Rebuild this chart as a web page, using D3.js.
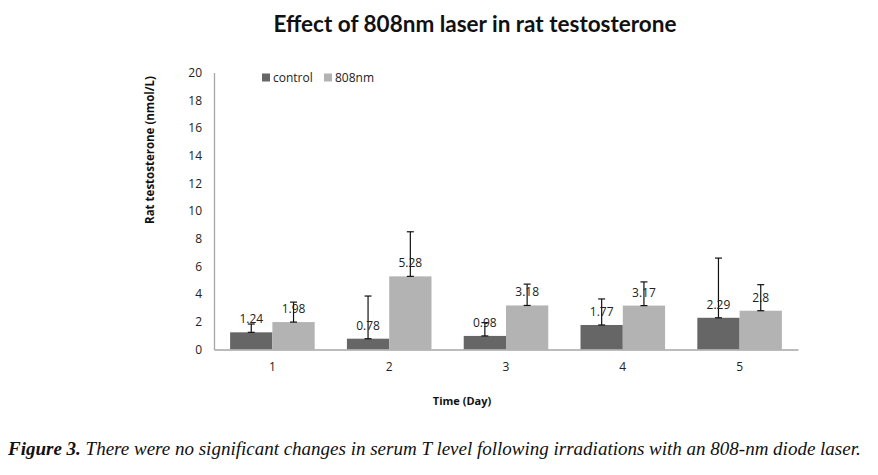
<!DOCTYPE html>
<html><head><meta charset="utf-8">
<script src="https://cdn.jsdelivr.net/npm/d3@7"></script>
<style>body{margin:0;background:#fff}</style>
</head><body>
<svg id="c" width="878" height="475"></svg>
<script>
const categories = ["1","2","3","4","5"];
const seriesNames = ["control","808nm"];
const controlValues = [1.24,0.78,0.98,1.77,2.29];
const laserValues = [1.98,5.28,3.18,3.17,2.8];
const controlErr = [0.6,3.08,0.96,1.88,4.31];
const laserErr = [1.44,3.22,1.54,1.71,1.88];
const yTicks = [0,2,4,6,8,10,12,14,16,18,20];
const colors = ["#666666","#b3b3b3"];

const svg = d3.select("#c");
const m = {left:214, right:798, top:72.5, bottom:349.5};
const x = d3.scaleBand().domain(categories).range([m.left,m.right]).paddingInner(0.276).paddingOuter(0.138);
const xs = d3.scaleBand().domain(seriesNames).range([0,x.bandwidth()]);
const y = d3.scaleLinear().domain([0,20]).range([m.bottom,m.top]);

const font = "'Open Sans', sans-serif";

// title
svg.append("text").attr("x",475).attr("y",32).attr("text-anchor","middle")
  .attr("font-family","Lato, sans-serif").attr("font-weight","bold").attr("font-size",22.5)
  .attr("fill","#111").text("Effect of 808nm laser in rat testosterone");

// y axis ticks labels
const ya = svg.append("g").attr("transform",`translate(${m.left},0)`)
  .call(d3.axisLeft(y).tickValues(yTicks).tickSize(0).tickPadding(12));
ya.select(".domain").attr("stroke","#a6a6a6").attr("stroke-width",1.3);
ya.selectAll("text").attr("font-family",font).attr("font-size",12).attr("fill","#222");

const data = categories.map((c,i)=>[
  {cat:c, s:"control", v:controlValues[i], e:controlErr[i]},
  {cat:c, s:"808nm", v:laserValues[i], e:laserErr[i]}
]).flat();

svg.append("g").selectAll("rect").data(data).join("rect")
  .attr("x",d=>x(d.cat)+xs(d.s)).attr("width",xs.bandwidth())
  .attr("y",d=>y(d.v)).attr("height",d=>y(0)-y(d.v))
  .attr("fill",d=>colors[seriesNames.indexOf(d.s)]);

// x axis
const xa = svg.append("g").attr("transform",`translate(0,${m.bottom})`)
  .call(d3.axisBottom(x).tickSize(0).tickPadding(13));
xa.select(".domain").attr("stroke","#a6a6a6").attr("stroke-width",1.3);
xa.selectAll("text").attr("font-family",font).attr("font-size",12).attr("fill","#222");

// error bars (plus only)
const eb = svg.append("g").attr("stroke","#111").attr("stroke-width",1.2);
data.forEach(d=>{
  const cx = x(d.cat)+xs(d.s)+xs.bandwidth()/2;
  eb.append("line").attr("x1",cx).attr("x2",cx).attr("y1",y(d.v)).attr("y2",y(d.v+d.e));
  eb.append("line").attr("x1",cx-3.5).attr("x2",cx+3.5).attr("y1",y(d.v+d.e)).attr("y2",y(d.v+d.e));
  eb.append("line").attr("x1",cx-3.5).attr("x2",cx+3.5).attr("y1",y(d.v)).attr("y2",y(d.v));
});

// value labels
svg.append("g").selectAll("text").data(data).join("text")
  .attr("x",d=>x(d.cat)+xs(d.s)+xs.bandwidth()/2)
  .attr("y",d=>y(d.v)-9).attr("text-anchor","middle")
  .attr("font-family",font).attr("font-size",12).attr("fill","#222")
  .text(d=>String(d.v));

// legend
const lg = svg.append("g").attr("font-family",font).attr("font-size",12).attr("fill","#222");
const lx = [262,324];
seriesNames.forEach((s,i)=>{
  lg.append("rect").attr("x",lx[i]).attr("y",73.5).attr("width",8).attr("height",8).attr("fill",colors[i]);
  lg.append("text").attr("x",lx[i]+11).attr("y",82).text(s);
});

// axis titles
svg.append("text").attr("transform","translate(154,150) rotate(-90)").attr("text-anchor","middle")
  .attr("font-family",font).attr("font-weight","bold").attr("font-size",11.5).attr("fill","#111")
  .text("Rat testosterone (nmol/L)");
svg.append("text").attr("x",462).attr("y",405).attr("text-anchor","middle")
  .attr("font-family",font).attr("font-weight","bold").attr("font-size",11).attr("fill","#111")
  .text("Time (Day)");

// caption
const cap = svg.append("text").attr("x",8).attr("y",455)
  .attr("font-family","'Liberation Serif', serif").attr("font-style","italic").attr("font-size",19).attr("fill","#111");
cap.append("tspan").attr("font-weight","bold").text("Figure 3.");
cap.append("tspan").text(" There were no significant changes in serum T level following irradiations with an 808-nm diode laser.");
</script>
</body></html>
